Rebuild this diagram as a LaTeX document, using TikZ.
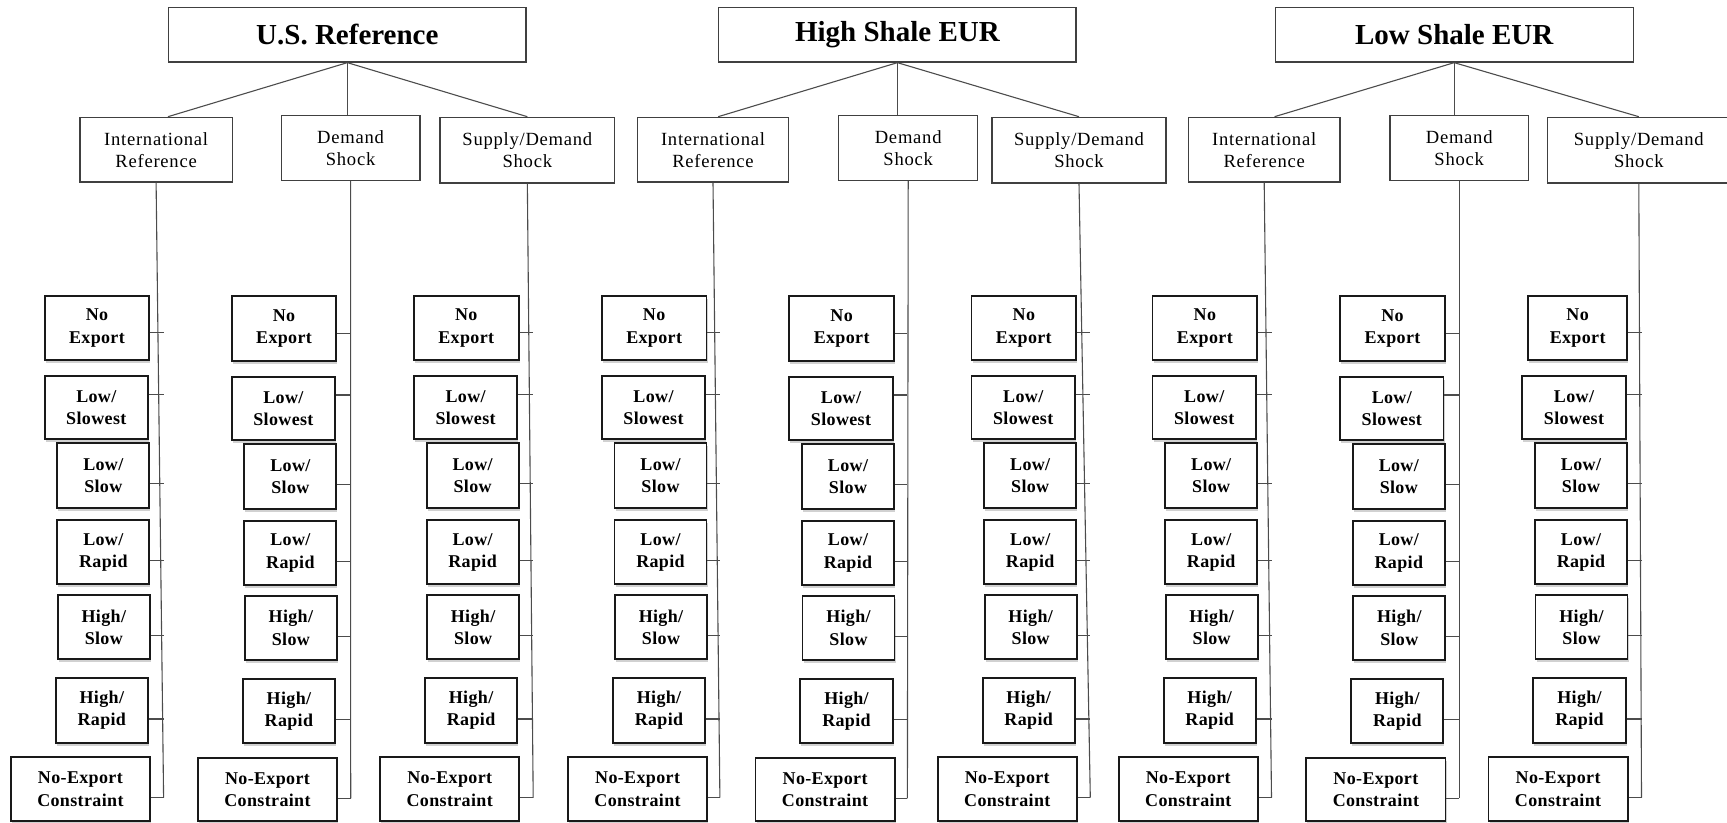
\documentclass[tikz,border=0pt]{standalone}
\usepackage{fontspec}
\setmainfont{Liberation Serif}
\newfontfamily\midfont[LetterSpace=4]{Liberation Serif}
\newfontfamily\leaffont[LetterSpace=2]{Liberation Serif}
\usetikzlibrary{shadows}
\tikzset{
  topbox/.style={draw=black!75, line width=1.3pt, fill=white, inner sep=0pt, align=center,
    font=\fontsize{29}{34}\selectfont\bfseries},
  midbox/.style={draw=black!75, line width=1.2pt, fill=white, inner sep=0pt, align=center,
    font=\midfont\fontsize{18.6}{22}\selectfont},
  leaf/.style={draw=black!90, line width=1.9pt, fill=white, inner sep=0pt, align=center,
    font=\leaffont\fontsize{18}{22.3}\selectfont\bfseries,
    drop shadow={shadow xshift=1pt, shadow yshift=-3pt, opacity=0.18, fill=black}},
  conn/.style={draw=black!70, line width=1.1pt}
}
\newcommand\bx[7]{\node[#1, minimum width={(#5)-(#3)}, minimum height={(#6)-(#4)}] (#2) at ({((#3)+(#5))/2},{((#4)+(#6))/2}) {#7};}
\begin{document}
\begin{tikzpicture}[x=1pt,y=-1pt]
\useasboundingbox (0,0) rectangle (1727,822);
% top level
\bx{topbox}{top1}{168.6}{7.3}{526.1}{62}{U.S. Reference}
\bx{topbox}{top2}{718.8}{7.3}{1076}{62}{High Shale EUR}
\bx{topbox}{top3}{1275.2}{7.3}{1633.2}{62}{Low Shale EUR}
% second level
\bx{midbox}{I1}{80}{117.3}{232.2}{182}{International\\Reference}
\bx{midbox}{D1}{281.2}{115.7}{420}{180.3}{Demand\\Shock}
\bx{midbox}{S1}{440}{117.3}{614.7}{183}{Supply/Demand\\Shock}
\bx{midbox}{I2}{637.2}{117.3}{788.8}{182}{International\\Reference}
\bx{midbox}{D2}{838.8}{115.7}{977.6}{180.3}{Demand\\Shock}
\bx{midbox}{S2}{992}{117.3}{1166}{183}{Supply/Demand\\Shock}
\bx{midbox}{I3}{1188.4}{117.3}{1340}{182}{International\\Reference}
\bx{midbox}{D3}{1390}{115.7}{1528.4}{180.3}{Demand\\Shock}
\bx{midbox}{S3}{1547.2}{117.3}{1730.4}{183}{Supply/Demand\\Shock}
% fans
\foreach \g in {1,2,3}{
  \draw[conn] (top\g.south) -- (top\g.west |- I\g.north);
  \draw[conn] (top\g.south) -- (top\g.south |- D\g.north);
  \draw[conn] (top\g.south) -- (S\g.north);
}
% leaf columns
\foreach \cl/\R/\dy/\xe/\m/\nl in {1/149.3/0/163.6/I1/104.7, 2/336.4/0.7/350.7/D1/104.7, 3/518.6/0/533.2/S1/104.7,
  4/706.5/0/719.9/I2/104.7, 5/894/0.7/907.4/D2/104.7, 6/1076.2/0/1090.3/S2/104.7,
  7/1257.2/0/1271.5/I3/104.7, 8/1444.8/0.7/1459.2/D3/104.7, 9/1627/0/1641.5/S3/98.7}{
  \bx{leaf}{L\cl r1}{\R-\nl}{295.7+\dy}{\R}{360.3+\dy}{No\\Export}
  \bx{leaf}{L\cl r2}{\R-104.7}{376+\dy}{\R-1.3}{439.3+\dy}{Low/\\Slowest}
  \bx{leaf}{L\cl r3}{\R-92}{443.3+\dy}{\R}{508.3+\dy}{Low/\\Slow}
  \bx{leaf}{L\cl r4}{\R-92}{520+\dy}{\R}{584.3+\dy}{Low/\\Rapid}
  \bx{leaf}{L\cl r5}{\R-91.5}{595+\dy}{\R+0.5}{659.3+\dy}{High/\\Slow}
  \bx{leaf}{L\cl r6}{\R-93.6}{678.3+\dy}{\R-1.4}{742.7+\dy}{High/\\Rapid}
  \bx{leaf}{L\cl r7}{\R-138.5}{757.3+\dy}{\R+0.7}{821}{No-Export\\Constraint}
  \coordinate (k\cl r1) at (\xe,332.7+\dy);
  \coordinate (k\cl r2) at (\xe,394.3+\dy);
  \coordinate (k\cl r3) at (\xe,483.7+\dy);
  \coordinate (k\cl r4) at (\xe,560.7+\dy);
  \coordinate (k\cl r5) at (\xe,635.7+\dy);
  \coordinate (k\cl r6) at (\xe,719+\dy);
  \coordinate (k\cl r7) at (\xe,797.7+\dy);
  \draw[conn] (\m.south) -- (k\cl r7);
  \foreach \r in {1,...,7}{
    \draw[conn] (k\cl r\r -| L\cl r\r.east) -- (k\cl r\r);
  }
}
\end{tikzpicture}
\end{document}
